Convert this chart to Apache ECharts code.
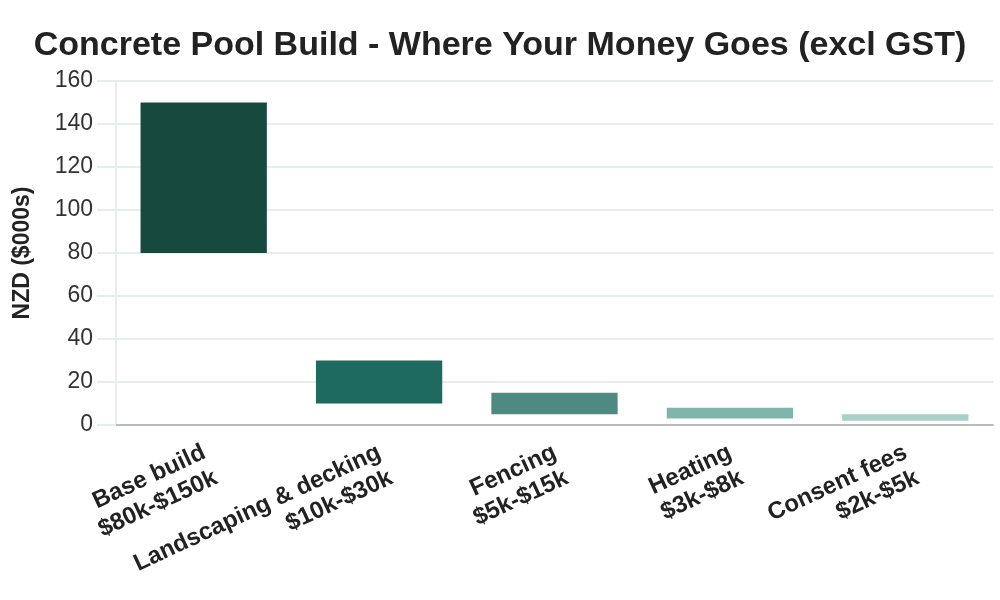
<!DOCTYPE html>
<html>
<head>
<meta charset="utf-8">
<script src="https://cdn.jsdelivr.net/npm/echarts@6/dist/echarts.min.js"></script>
<style>
  html, body { margin: 0; padding: 0; background: #fff; }
  #chart { width: 1000px; height: 600px; }
</style>
</head>
<body>
<div id="chart"></div>
<script>
// cost ranges, in thousands of NZD
var categories = ['Base build\n$80k-$150k', 'Landscaping & decking\n$10k-$30k', 'Fencing\n$5k-$15k', 'Heating\n$3k-$8k', 'Consent fees\n$2k-$5k'];
var lows = [80, 10, 5, 3, 2];
var highs = [150, 30, 15, 8, 5];
var barColors = ['#17493f', '#1f6a5e', '#4f8a81', '#80b5ab', '#a9d0c8'];
var yTicks = [0, 20, 40, 60, 80, 100, 120, 140, 160];

var chart = echarts.init(document.getElementById('chart'));

var spans = [];
for (var i = 0; i < lows.length; i++) {
  spans.push({
    value: highs[i] - lows[i],
    itemStyle: { color: barColors[i] }
  });
}

var option = {
  animation: false,
  title: {
    text: 'Concrete Pool Build - Where Your Money Goes (excl GST)',
    left: 'center',
    top: 24,
    textStyle: {
      fontFamily: 'Liberation Sans',
      fontSize: 34,
      fontWeight: 'bold',
      color: '#222'
    }
  },
  grid: {
    left: 116,
    right: 7,
    top: 81,
    bottom: 175,
    containLabel: false,
    outerBoundsMode: 'none'
  },
  xAxis: {
    type: 'category',
    data: categories,
    axisLine: { lineStyle: { color: '#bbbbbb', width: 2 } },
    axisTick: { show: false },
    axisLabel: {
      rotate: 25,
      interval: 0,
      margin: 42,
      padding: [0, -7, 0, 0],
      fontFamily: 'Liberation Sans',
      fontSize: 24,
      fontWeight: 'bold',
      color: '#222',
      lineHeight: 28,
      align: 'right'
    }
  },
  yAxis: {
    type: 'value',
    min: yTicks[0],
    max: yTicks[yTicks.length - 1],
    interval: 20,
    name: 'NZD ($000s)',
    nameLocation: 'middle',
    nameGap: 82,
    nameTextStyle: {
      fontFamily: 'Liberation Sans',
      fontSize: 23,
      fontWeight: 'bold',
      color: '#222'
    },
    axisLine: { show: true, lineStyle: { color: '#e6eeec', width: 2 } },
    axisTick: { show: true, length: 19, lineStyle: { color: '#e6eeec', width: 2 } },
    splitLine: { lineStyle: { color: '#e6eeec', width: 2 } },
    axisLabel: {
      margin: 23,
      fontFamily: 'Liberation Sans',
      fontSize: 23,
      color: '#333'
    }
  },
  series: [
    {
      name: 'base',
      type: 'bar',
      stack: 'range',
      silent: true,
      itemStyle: { color: 'transparent' },
      data: lows
    },
    {
      name: 'range',
      type: 'bar',
      stack: 'range',
      barWidth: '72%',
      data: spans
    }
  ]
};

chart.setOption(option);
</script>
</body>
</html>
